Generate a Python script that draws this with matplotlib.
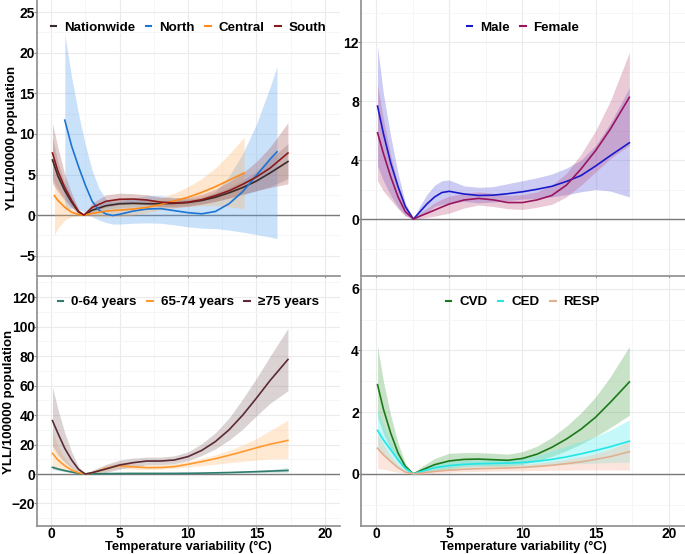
import matplotlib

matplotlib.use("Agg")
import matplotlib.pyplot as plt
from matplotlib.lines import Line2D
import numpy as np

plt.rcParams["font.family"] = ["Liberation Sans", "DejaVu Sans"]
plt.rcParams["font.weight"] = "bold"

# ---- top-left: regions ----
x_nat = [0.1, 0.5, 1.0, 1.5, 2.0, 2.4, 3, 4, 5, 6, 7, 8, 9, 10, 11, 12, 13, 14, 15, 16, 17.3]
nat = [6.8, 4.8, 3.0, 1.6, 0.4, 0.0, 0.6, 1.15, 1.4, 1.45, 1.4, 1.4, 1.45, 1.55, 1.8, 2.2, 2.75, 3.4, 4.2, 5.2, 6.6]
nat_lo = [4.4, 3.3, 2.0, 1.0, 0.2, 0.0, 0.3, 0.7, 0.9, 1.0, 1.0, 1.0, 1.05, 1.15, 1.35, 1.65, 2.1, 2.5, 3.0, 3.5, 4.5]
nat_hi = [9.5, 6.5, 4.0, 2.2, 0.6, 0.0, 0.9, 1.6, 1.95, 1.9, 1.8, 1.8, 1.85, 1.95, 2.25, 2.75, 3.4, 4.3, 5.4, 6.9, 8.8]
south = [7.65, 5.4, 3.4, 1.8, 0.45, 0.0, 0.95, 1.7, 1.95, 1.98, 1.86, 1.6, 1.5, 1.6, 1.9, 2.4, 3.0, 3.8, 4.7, 5.8, 7.65]
south_lo = [3.9, 2.9, 1.8, 0.9, 0.2, 0.0, 0.5, 1.0, 1.3, 1.4, 1.3, 1.05, 0.95, 1.1, 1.35, 1.7, 2.1, 2.6, 3.0, 3.4, 3.85]
south_hi = [11.3, 8.3, 5.0, 2.7, 0.8, 0.0, 1.5, 2.5, 2.7, 2.65, 2.5, 2.2, 2.1, 2.2, 2.55, 3.2, 4.1, 5.2, 6.6, 8.4, 11.4]

x_north = [1.0, 1.5, 2.0, 2.5, 3.0, 3.5, 4.0, 4.5, 5, 6, 7, 8, 9, 10, 11, 12, 13, 14, 15, 16, 16.5]
north = [11.7, 8.5, 6.0, 3.7, 1.7, 0.6, 0.15, -0.05, 0.1, 0.5, 0.75, 0.8, 0.55, 0.3, 0.16, 0.45, 1.4, 2.9, 4.9, 6.9, 7.8]
north_lo = [0.6, 0.9, 0.7, 0.3, -0.2, -0.6, -0.9, -1.1, -1.1, -1.0, -0.95, -1.0, -1.2, -1.45, -1.6, -1.65, -1.85, -2.1, -2.4, -2.7, -2.9]
north_hi = [22.3, 17.0, 12.5, 8.7, 5.5, 3.3, 2.0, 1.6, 1.7, 2.1, 2.4, 2.4, 2.2, 2.0, 2.0, 2.9, 4.8, 7.6, 11.2, 15.8, 18.3]

x_central = [0.24, 0.5, 1.0, 1.5, 2.0, 2.4, 3, 4, 5, 6, 7, 8, 9, 10, 11, 12, 13, 14.1]
central = [2.4, 1.8, 0.97, 0.36, 0.08, 0.0, 0.2, 0.5, 0.62, 0.75, 0.95, 1.3, 1.75, 2.2, 2.8, 3.5, 4.3, 5.2]
central_lo = [-2.5, -1.6, -0.6, -0.2, -0.05, 0.0, -0.15, -0.25, -0.2, 0.0, 0.3, 0.6, 0.85, 1.05, 1.15, 1.15, 1.0, 0.8]
central_hi = [5.0, 3.6, 1.9, 0.8, 0.2, 0.0, 0.55, 1.25, 1.45, 1.55, 1.7, 2.1, 2.7, 3.5, 4.5, 5.8, 7.5, 9.6]

# ---- top-right: sex ----
x_sex = [0.1, 0.5, 1.0, 1.5, 2.0, 2.55, 3, 3.5, 4, 4.5, 5, 6, 7, 8, 9, 10, 11, 12, 13, 14, 15, 16, 17.3]
male = [7.66, 5.8, 3.8, 2.2, 0.84, 0.0, 0.5, 1.05, 1.5, 1.8, 1.88, 1.7, 1.6, 1.62, 1.72, 1.85, 2.02, 2.22, 2.55, 2.95, 3.6, 4.3, 5.17]
male_lo = [3.6, 2.6, 1.6, 0.8, 0.25, 0.0, 0.2, 0.5, 0.85, 1.0, 1.08, 1.2, 1.1, 1.15, 1.25, 1.35, 1.4, 1.5, 1.65, 1.85, 2.0, 1.9, 1.5]
male_hi = [11.7, 8.5, 5.6, 3.1, 1.1, 0.0, 0.9, 1.7, 2.3, 2.6, 2.65, 2.25, 2.15, 2.2, 2.4, 2.6, 2.8, 3.05, 3.45, 4.0, 5.0, 6.5, 8.9]
female = [5.85, 4.45, 2.87, 1.5, 0.5, 0.0, 0.2, 0.4, 0.61, 0.82, 1.02, 1.29, 1.4, 1.3, 1.12, 1.12, 1.3, 1.6, 2.3, 3.4, 4.65, 6.1, 8.25]
female_lo = [2.6, 1.9, 1.3, 0.7, 0.2, 0.0, 0.05, 0.12, 0.2, 0.3, 0.4, 0.75, 0.95, 0.85, 0.7, 0.65, 0.8, 1.0, 1.5, 2.3, 3.2, 4.1, 5.0]
female_hi = [9.1, 6.8, 4.3, 2.3, 0.8, 0.0, 0.4, 0.75, 1.1, 1.35, 1.55, 1.75, 1.85, 1.75, 1.6, 1.65, 1.85, 2.3, 3.1, 4.4, 6.0, 8.0, 11.3]

# ---- bottom-left: age groups ----
x_age = [0.1, 0.5, 1.0, 1.5, 2.0, 2.5, 3, 4, 5, 6, 7, 8, 9, 10, 11, 12, 13, 14, 15, 16, 17.3]
young = [4.5, 3.4, 2.3, 1.35, 0.45, 0.0, 0.1, 0.25, 0.35, 0.4, 0.4, 0.4, 0.42, 0.5, 0.6, 0.8, 1.0, 1.3, 1.6, 1.95, 2.4]
young_lo = [3.0, 2.4, 1.6, 0.9, 0.25, 0.0, -0.1, 0.0, 0.05, 0.1, 0.1, 0.1, 0.1, 0.15, 0.2, 0.35, 0.5, 0.7, 0.9, 1.1, 1.3]
young_hi = [6.0, 4.5, 3.0, 1.8, 0.65, 0.0, 0.3, 0.5, 0.65, 0.7, 0.7, 0.7, 0.75, 0.85, 1.0, 1.25, 1.55, 1.95, 2.4, 3.0, 4.3]
middle = [14.0, 9.5, 5.6, 2.7, 0.9, 0.0, 0.8, 3.8, 5.6, 4.8, 4.3, 4.4, 5.0, 6.6, 8.4, 10.4, 12.7, 15.2, 17.8, 20.2, 22.8]
middle_lo = [5.0, 4.0, 2.5, 1.2, 0.3, 0.0, 0.0, 2.2, 4.0, 3.3, 3.0, 3.3, 3.9, 4.8, 5.6, 6.6, 7.6, 8.6, 9.5, 10.2, 10.5]
middle_hi = [30.0, 19.0, 11.0, 5.5, 1.8, 0.0, 1.5, 5.8, 7.8, 6.8, 6.0, 6.2, 7.0, 8.5, 10.5, 13.0, 16.0, 19.8, 24.0, 29.5, 36.6]
old = [36.2, 27.6, 17.4, 9.5, 3.2, 0.0, 0.9, 3.4, 6.1, 7.7, 8.8, 8.8, 9.5, 11.8, 16.0, 22.0, 30.0, 40.0, 51.5, 63.5, 77.7]
old_lo = [19.0, 13.0, 8.0, 4.0, 1.5, 0.0, -0.3, 1.0, 3.3, 5.0, 6.2, 6.3, 7.0, 9.0, 12.5, 17.0, 23.0, 30.5, 39.5, 48.0, 56.5]
old_hi = [59.0, 44.0, 28.0, 15.0, 5.0, 0.0, 2.5, 6.5, 9.5, 10.8, 11.5, 11.5, 12.3, 15.0, 20.5, 28.0, 38.0, 51.0, 65.0, 80.0, 98.8]

# ---- bottom-right: causes ----
x_cause = [0.1, 0.5, 1.0, 1.5, 2.0, 2.55, 3, 4, 5, 6, 7, 8, 9, 10, 11, 12, 13, 14, 15, 16, 17.3]
cvd = [2.89, 2.1, 1.32, 0.68, 0.24, 0.0, 0.1, 0.3, 0.42, 0.47, 0.48, 0.46, 0.44, 0.5, 0.64, 0.86, 1.13, 1.45, 1.84, 2.32, 2.98]
cvd_lo = [1.85, 1.3, 0.8, 0.4, 0.12, 0.0, 0.02, 0.12, 0.17, 0.24, 0.26, 0.25, 0.25, 0.31, 0.42, 0.57, 0.75, 0.97, 1.22, 1.5, 1.9]
cvd_hi = [4.15, 3.0, 1.9, 1.0, 0.35, 0.0, 0.2, 0.5, 0.67, 0.69, 0.69, 0.67, 0.64, 0.72, 0.9, 1.18, 1.55, 1.98, 2.5, 3.15, 4.13]
ced = [1.41, 1.1, 0.78, 0.45, 0.18, 0.0, 0.07, 0.2, 0.27, 0.31, 0.33, 0.34, 0.35, 0.37, 0.41, 0.47, 0.55, 0.65, 0.76, 0.88, 1.06]
ced_lo = [0.8, 0.6, 0.4, 0.2, 0.06, 0.0, 0.02, 0.1, 0.15, 0.2, 0.22, 0.24, 0.24, 0.25, 0.27, 0.3, 0.31, 0.33, 0.35, 0.37, 0.38]
ced_hi = [2.1, 1.6, 1.05, 0.6, 0.2, 0.0, 0.12, 0.32, 0.4, 0.44, 0.45, 0.46, 0.47, 0.5, 0.6, 0.75, 0.9, 1.05, 1.22, 1.42, 1.75]
resp = [0.83, 0.62, 0.4, 0.2, 0.06, 0.0, 0.02, 0.08, 0.12, 0.15, 0.17, 0.18, 0.19, 0.21, 0.24, 0.28, 0.33, 0.39, 0.47, 0.56, 0.72]
resp_lo = [0.18, 0.15, 0.1, 0.05, 0.02, 0.0, -0.02, 0.02, 0.05, 0.07, 0.08, 0.09, 0.1, 0.1, 0.11, 0.12, 0.12, 0.13, 0.13, 0.13, 0.12]
resp_hi = [1.3, 0.95, 0.6, 0.3, 0.1, 0.0, 0.05, 0.14, 0.2, 0.24, 0.26, 0.27, 0.28, 0.3, 0.35, 0.4, 0.47, 0.55, 0.65, 0.8, 1.05]

AXIS_GRAY = "#8c8c8c"
YLABEL = "YLL/100000 population"
XLABEL = "Temperature variability (\u00b0C)"


def style_axis(ax, ylim, yticks, yminor, xlabels):
    ax.set_xlim(-1.03, 21.1)
    ax.set_ylim(*ylim)
    ax.set_xticks([0, 5, 10, 15, 20])
    ax.set_xticks([2.5, 7.5, 12.5, 17.5], minor=True)
    ax.set_yticks(yticks)
    ax.set_yticks(yminor, minor=True)
    ax.grid(which="major", color="#ebebeb", lw=0.8)
    ax.grid(which="minor", color="#f5f5f5", lw=0.6)
    ax.set_axisbelow(True)
    for s in ["top", "right"]:
        ax.spines[s].set_visible(False)
    for s in ["left", "bottom"]:
        ax.spines[s].set_color(AXIS_GRAY)
        ax.spines[s].set_linewidth(1.2)
    ax.tick_params(which="major", length=2.5, color=AXIS_GRAY, labelsize=10,
                   labelcolor="black")
    ax.tick_params(axis="y", pad=-1)
    ax.tick_params(axis="x", pad=-2)
    ax.tick_params(which="minor", length=0)
    if not xlabels:
        ax.tick_params(axis="x", labelbottom=False)
    ax.axhline(0, color="#7a7a7a", lw=1.0, zorder=1)


def draw_series(ax, series, legend_y):
    # series: (label, x, y, lo, hi, line color, band color, band alpha)
    for _, x, y, lo, hi, lc, bc, a in series:
        ax.fill_between(x, lo, hi, color=bc, alpha=a, lw=0, zorder=2)
    for _, x, y, lo, hi, lc, bc, a in series:
        ax.plot(x, y, color=lc, lw=1.2, zorder=3)
    handles = [Line2D([], [], color=s[5], lw=1.5) for s in series]
    ax.legend(handles, [s[0] for s in series], loc="center",
              bbox_to_anchor=(0.5, legend_y), ncol=len(series), frameon=False,
              handlelength=0.4, handletextpad=0.6, columnspacing=0.8,
              borderpad=0, prop={"weight": "bold", "size": 9.6})


def add_ylabel(ax, xfrac):
    ax.set_ylabel(YLABEL, fontsize=9.5, fontweight="bold")
    ax.yaxis.set_label_coords(xfrac, 0.5)
    ax.yaxis.label.set_va("center")


def add_xlabel(ax):
    ax.set_xlabel(XLABEL, fontsize=9.3, fontweight="bold")
    ax.xaxis.set_label_coords(0.5, -0.086)
    ax.xaxis.label.set_va("center")


fig = plt.figure(figsize=(6.85, 5.54), dpi=100)

ax1 = fig.add_axes([0.0540, 0.5018, 0.4423, 0.4982])
style_axis(ax1, (-7.0, 26.5), [-5, 0, 5, 10, 15, 20, 25],
           [-7.5, -2.5, 2.5, 7.5, 12.5, 17.5, 22.5], False)
draw_series(ax1, [
    ("Nationwide", x_nat, nat, nat_lo, nat_hi, "#3b2a2a", "#6e6060", 0.25),
    ("North", x_north, north, north_lo, north_hi, "#1c74d4", "#5aa5ee", 0.32),
    ("Central", x_central, central, central_lo, central_hi, "#ff8c1a", "#ffb060", 0.3),
    ("South", x_nat, south, south_lo, south_hi, "#8b1a1a", "#a85555", 0.3),
], 0.9)
add_ylabel(ax1, -0.083)

ax2 = fig.add_axes([0.5270, 0.5018, 0.4730, 0.4982])
style_axis(ax2, (-3.86, 14.85), [0, 4, 8, 12], [-2, 2, 6, 10, 14], False)
draw_series(ax2, [
    ("Male", x_sex, male, male_lo, male_hi, "#1a1acd", "#6a6ae0", 0.35),
    ("Female", x_sex, female, female_lo, female_hi, "#99155e", "#c05080", 0.3),
], 0.9)

ax3 = fig.add_axes([0.0540, 0.0505, 0.4423, 0.4477])
style_axis(ax3, (-35.3, 133), [-20, 0, 20, 40, 60, 80, 100, 120],
           [-30, -10, 10, 30, 50, 70, 90, 110, 130], True)
draw_series(ax3, [
    ("0-64 years", x_age, young, young_lo, young_hi, "#2e7d6e", "#5aa89a", 0.3),
    ("65-74 years", x_age, middle, middle_lo, middle_hi, "#ff9a30", "#ffb870", 0.3),
    ("\u226575 years", x_age, old, old_lo, old_hi, "#5b2a35", "#8a7070", 0.3),
], 0.903)
add_ylabel(ax3, -0.093)
add_xlabel(ax3)

ax4 = fig.add_axes([0.5270, 0.0505, 0.4730, 0.4477])
style_axis(ax4, (-1.69, 6.35), [0, 2, 4, 6], [-1, 1, 3, 5], True)
draw_series(ax4, [
    ("CVD", x_cause, cvd, cvd_lo, cvd_hi, "#1a7a1a", "#3a9a3a", 0.28),
    ("CED", x_cause, ced, ced_lo, ced_hi, "#22e5e5", "#5af0f0", 0.35),
    ("RESP", x_cause, resp, resp_lo, resp_hi, "#e0b090", "#f8c0a8", 0.4),
], 0.903)
add_xlabel(ax4)

fig.savefig("out.png", dpi=100)
plt.close(fig)
